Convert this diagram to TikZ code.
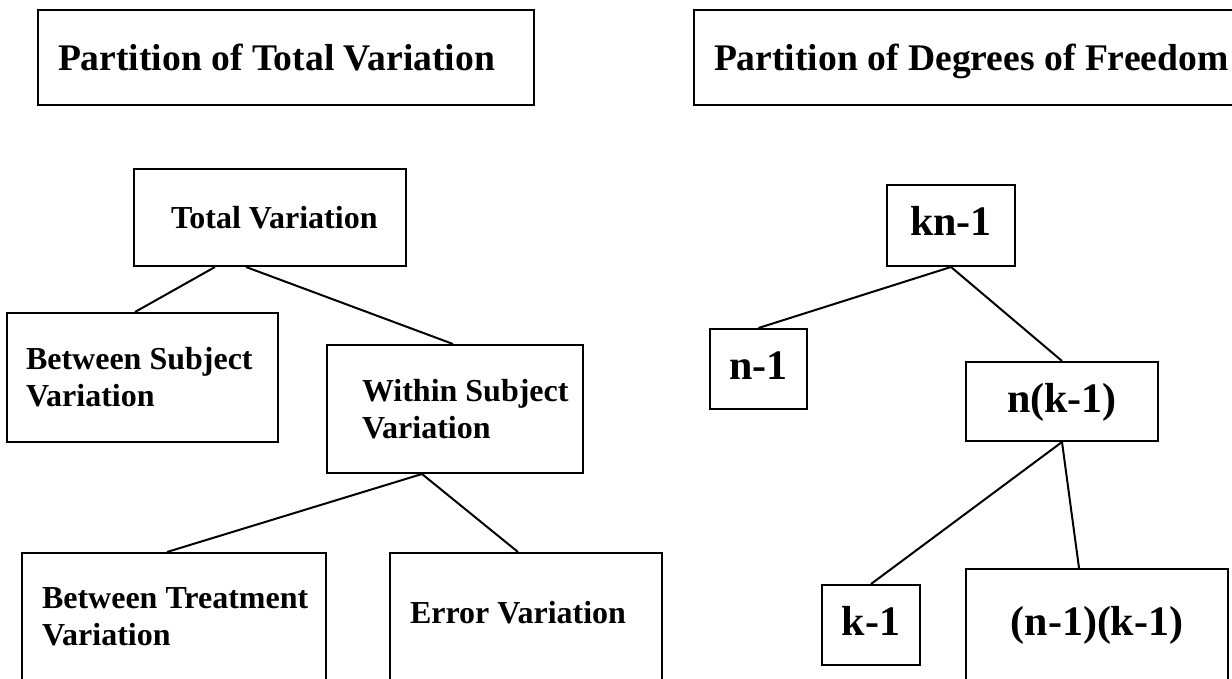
\documentclass[tikz,border=0pt]{standalone}
\usepackage{fontspec}
\setmainfont{Liberation Serif}
\usetikzlibrary{calc}
\hyphenpenalty=10000
\exhyphenpenalty=10000
\tikzset{
  hdr/.style    = {draw, line width=1pt, align=flush left, inner xsep=10pt,
                   minimum height=47.5pt, text depth=0pt,
                   font=\fontsize{18.8}{22}\selectfont\bfseries},
  varbox/.style = {draw, line width=1pt, align=flush left,
                   font=\fontsize{16}{18.5}\selectfont\bfseries},
  dfbox/.style  = {draw, line width=1pt, align=center, text height=13pt,
                   text depth=2.5pt, font=\fontsize{21}{24}\selectfont\bfseries},
  link/.style   = {line width=1pt}
}

\begin{document}
\begin{tikzpicture}[x=0.5pt, y=-0.5pt]
\useasboundingbox (0,0) rectangle (1232,679);
\clip (0,0) rectangle (1232,679);

\node[hdr, minimum width=248pt, text width=228pt] (hvar) at (286,57.5)
    {Partition of Total Variation};
\node[hdr, minimum width=280pt, text width=260pt] (hdf) at (974,57.5)
    {Partition of Degrees of Freedom};

\node[varbox, minimum width=136pt, minimum height=48.5pt, inner xsep=18.5pt,
      text width=99pt] (tot) at (270,217.5) {\mbox{Total Variation}};
\node[varbox, minimum width=135.5pt, minimum height=64.5pt, inner xsep=9.5pt,
      text width=116.5pt] (bsub) at (142.5,377.5) {Between Subject\\Variation};
\node[varbox, minimum width=128pt, minimum height=64pt, inner xsep=17.5pt,
      text width=93pt] (wsub) at (455,409) {\mbox{Within Subject}\\Variation};
\node[varbox, minimum width=152pt, minimum height=73.5pt, inner xsep=10pt,
      text width=132pt, text height=10.5pt, text depth=29pt] (btr) at (174,626.5)
    {\mbox{Between Treatment}\\Variation};
\node[varbox, minimum width=136pt, minimum height=73.5pt, inner xsep=10pt,
      text width=116pt, text height=10.5pt, text depth=14pt] (err) at (526,626.5)
    {Error Variation};

\node[dfbox, minimum width=64pt, minimum height=40.5pt] (kn) at (951,225.5) {kn-1};
\node[dfbox, minimum width=48.5pt, minimum height=40pt] (nm) at (758.5,369) {n-1};
\node[dfbox, minimum width=96pt, minimum height=39.5pt] (nk) at (1062,401.5) {n(k-1)};
\node[dfbox, minimum width=49pt, minimum height=40pt] (km) at (871,625) {k-1};
\node[dfbox, minimum width=131pt, minimum height=65.5pt, text height=14pt,
      text depth=13.5pt] (nmkm) at (1097,634.5) {(n-1)(k-1)};

\draw[link] ([xshift=-27.5pt]tot.south) -- ([xshift=-3.75pt]bsub.north);
\draw[link] ([xshift=-12pt]tot.south) -- ([xshift=-1pt]wsub.north);
\draw[link] ([xshift=-16.5pt]wsub.south) -- ([xshift=-3.5pt]btr.north);
\draw[link] ([xshift=-16.5pt]wsub.south) -- ([xshift=-4pt]err.north);

\draw[link] (kn.south) -- (nm.north);
\draw[link] (kn.south) -- (nk.north);
\draw[link] (nk.south) -- (km.north);
\draw[link] (nk.south) -- ([xshift=-9pt]nmkm.north);
\end{tikzpicture}
\end{document}
